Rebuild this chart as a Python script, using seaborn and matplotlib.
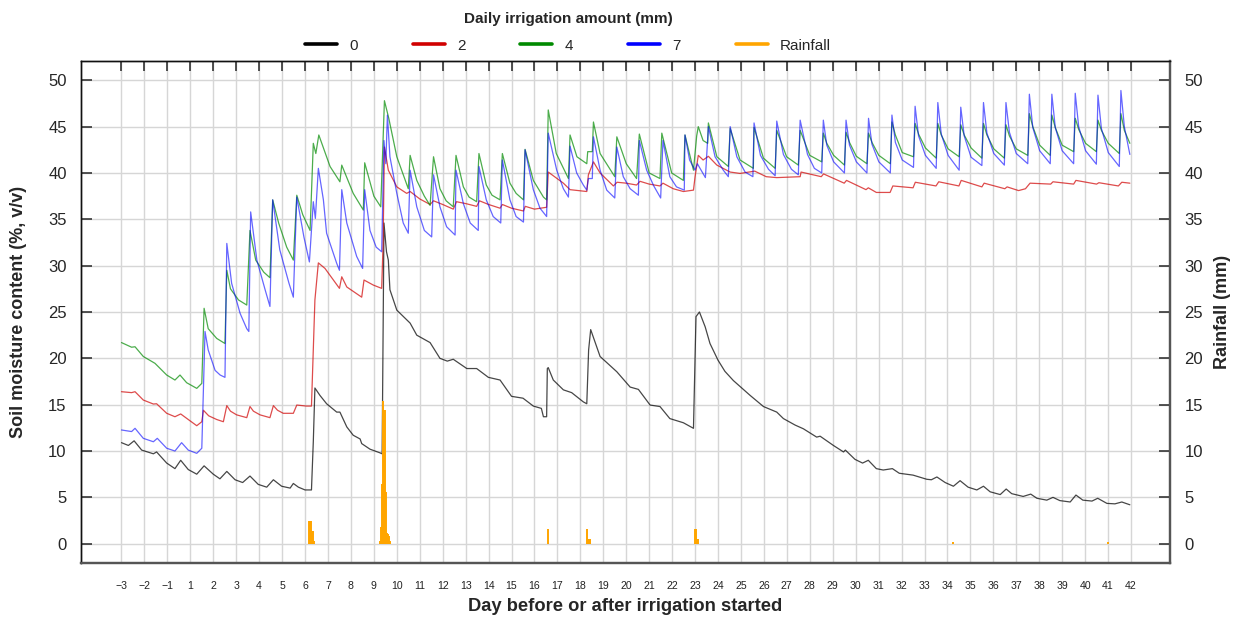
import pandas as pd
import seaborn as sns
import matplotlib.pyplot as plt
from matplotlib.lines import Line2D

# ------------------------------------------------------------------------------
# 1) Data
#    t = days since the start of the record (tick positions 0..44),
#    tick labels skip day 0: -3, -2, -1, 1, 2, ... 42
# ------------------------------------------------------------------------------
day_labels = ["\u22123", "\u22122", "\u22121"] + [str(d) for d in range(1, 43)]

# 0 mm irrigation
t_black = [0.00, 0.30, 0.55, 0.88, 1.39, 1.53, 1.97, 2.33, 2.58, 2.91,
           3.28, 3.60, 4.00, 4.29, 4.59, 4.95, 5.28, 5.60, 5.96, 6.33,
           6.62, 6.98, 7.35, 7.49, 7.71, 8.00, 8.28, 8.36, 8.43, 8.65,
           8.94, 9.38, 9.52, 9.82, 10.10, 10.40, 10.47, 10.83, 11.27, 11.36,
           11.44, 11.55, 11.63, 11.70, 12.00, 12.58, 12.87, 13.45, 13.88, 14.20,
           14.46, 15.05, 15.48, 15.99, 16.50, 17.00, 17.50, 17.95, 18.30, 18.39,
           18.53, 18.56, 18.60, 18.82, 19.26, 19.62, 20.13, 20.28, 20.36, 20.45,
           20.86, 21.59, 22.17, 22.53, 23.04, 23.47, 23.90, 24.49, 24.93, 25.04,
           25.19, 25.44, 25.65, 26.00, 26.30, 26.67, 27.40, 27.98, 28.56, 28.85,
           29.36, 29.72, 30.30, 30.45, 31.03, 31.47, 31.55, 31.97, 32.30, 32.55,
           32.90, 33.20, 33.60, 33.90, 34.50, 35.10, 35.30, 35.54, 35.90, 36.26,
           36.55, 36.90, 37.28, 37.57, 37.86, 38.30, 38.56, 38.80, 39.30, 39.63,
           39.90, 40.33, 40.60, 40.90, 41.35, 41.60, 41.90, 42.30, 42.55, 42.95,
           43.30, 43.60, 43.95]
v_black = [10.9, 10.6, 11.1, 10.1, 9.7, 9.9, 8.7, 8.1, 9.0, 8.0,
           7.5, 8.4, 7.5, 7.0, 7.8, 6.9, 6.6, 7.3, 6.4, 6.1,
           6.9, 6.2, 6.0, 6.5, 6.1, 5.8, 5.8, 11.0, 16.8, 16.0,
           15.1, 14.2, 14.2, 12.6, 11.7, 11.3, 10.8, 10.2, 9.8, 9.7,
           34.6, 31.5, 30.6, 27.4, 25.2, 23.8, 22.5, 21.7, 20.0, 19.7,
           19.9, 18.9, 18.9, 17.95, 17.66, 15.9, 15.7, 14.85, 14.6, 13.7,
           13.7, 18.9, 19.0, 17.66, 16.6, 16.3, 15.3, 15.1, 20.9, 23.1,
           20.2, 18.55, 16.9, 16.65, 14.96, 14.8, 13.5, 13.05, 12.45, 24.5,
           25.0, 23.4, 21.6, 19.8, 18.6, 17.6, 16.0, 14.8, 14.2, 13.5,
           12.8, 12.4, 11.5, 11.6, 10.6, 9.9, 10.1, 9.1, 8.7, 9.0,
           8.1, 7.95, 8.1, 7.6, 7.4, 6.95, 6.9, 7.2, 6.6, 6.2,
           6.8, 6.1, 5.8, 6.2, 5.6, 5.3, 5.9, 5.4, 5.1, 5.35,
           4.9, 4.7, 5.0, 4.65, 4.5, 5.25, 4.7, 4.6, 4.9, 4.35,
           4.3, 4.5, 4.2]

# 2 mm irrigation
t_red = [0.00, 0.44, 0.59, 0.95, 1.39, 1.53, 1.97, 2.33, 2.58, 2.91,
         3.28, 3.50, 3.57, 3.80, 4.15, 4.44, 4.59, 4.75, 5.02, 5.46,
         5.60, 5.75, 6.04, 6.47, 6.62, 6.80, 7.05, 7.49, 7.64, 8.06,
         8.28, 8.43, 8.58, 8.87, 9.50, 9.60, 9.82, 10.47, 10.57, 10.98,
         11.34, 11.40, 11.46, 11.63, 12.00, 12.43, 12.58, 13.00, 13.45, 13.60,
         14.00, 14.46, 14.60, 15.00, 15.48, 15.60, 16.00, 16.50, 16.60, 17.00,
         17.52, 17.60, 18.00, 18.53, 18.60, 19.26, 19.55, 20.28, 20.35, 20.57,
         20.86, 21.44, 21.60, 22.00, 22.45, 22.60, 23.00, 23.47, 23.60, 24.05,
         24.49, 24.93, 25.00, 25.14, 25.35, 25.58, 25.95, 26.53, 26.96, 27.60,
         28.10, 28.56, 29.58, 29.62, 30.50, 30.60, 31.50, 31.60, 32.45, 32.55,
         32.90, 33.50, 33.62, 34.50, 34.60, 35.50, 35.62, 36.50, 36.60, 37.50,
         37.60, 38.50, 38.60, 39.10, 39.40, 39.60, 40.50, 40.60, 41.50, 41.60,
         42.50, 42.60, 43.45, 43.60, 43.95]
v_red = [16.4, 16.3, 16.4, 15.5, 15.07, 15.1, 14.07, 13.7, 14.0, 13.4,
         12.73, 13.16, 14.4, 13.8, 13.4, 13.16, 14.9, 14.3, 13.9, 13.6,
         14.8, 14.3, 13.9, 13.6, 14.9, 14.4, 14.07, 14.07, 14.96, 14.85,
         14.85, 26.3, 30.3, 29.7, 27.55, 28.8, 27.7, 26.6, 28.45, 27.9,
         27.55, 32.2, 42.8, 40.3, 38.5, 37.8, 38.0, 37.2, 36.6, 37.0,
         36.6, 36.1, 36.9, 36.7, 36.4, 37.0, 36.6, 36.2, 36.6, 36.2,
         35.9, 36.4, 36.1, 36.3, 40.1, 38.9, 38.2, 38.0, 39.8, 41.2,
         40.0, 38.6, 39.0, 38.9, 38.7, 39.1, 38.8, 38.6, 38.9, 38.3,
         38.0, 38.15, 39.6, 41.9, 41.4, 41.8, 40.85, 40.1, 39.95, 40.2,
         39.6, 39.5, 39.6, 40.1, 39.6, 39.9, 38.9, 39.2, 38.2, 38.4,
         37.9, 37.9, 38.6, 38.4, 39.0, 38.6, 39.05, 38.6, 39.2, 38.5,
         38.9, 38.3, 38.5, 38.1, 38.3, 38.9, 38.8, 39.05, 38.8, 39.2,
         38.8, 38.95, 38.6, 39.0, 38.9]

# 4 mm irrigation
t_green = [0.00, 0.44, 0.59, 0.95, 1.46, 1.97, 2.33, 2.55, 2.84, 3.28,
           3.50, 3.60, 3.78, 4.15, 4.51, 4.59, 4.75, 5.10, 5.46, 5.60,
           5.85, 6.20, 6.47, 6.59, 6.85, 7.20, 7.49, 7.64, 7.90, 8.22,
           8.36, 8.47, 8.60, 9.09, 9.52, 9.60, 10.10, 10.54, 10.60, 11.00,
           11.30, 11.46, 11.65, 12.00, 12.50, 12.58, 12.87, 13.20, 13.45, 13.60,
           13.88, 14.15, 14.46, 14.58, 14.90, 15.15, 15.48, 15.58, 15.90, 16.15,
           16.50, 16.60, 16.93, 17.20, 17.52, 17.59, 17.95, 18.39, 18.53, 18.60,
           18.95, 19.48, 19.55, 19.85, 20.28, 20.32, 20.52, 20.57, 20.86, 21.50,
           21.59, 22.00, 22.45, 22.57, 23.00, 23.47, 23.55, 23.98, 24.49, 24.56,
           24.93, 25.07, 25.14, 25.35, 25.55, 25.58, 25.95, 26.45, 26.53, 26.96,
           27.54, 27.57, 27.98, 28.49, 28.56, 28.99, 29.50, 29.58, 30.00, 30.52,
           30.59, 30.74, 31.04, 31.51, 31.58, 31.73, 32.03, 32.49, 32.56, 32.71,
           33.01, 33.51, 33.58, 33.73, 34.03, 34.52, 34.59, 34.74, 35.04, 35.51,
           35.58, 35.73, 36.03, 36.51, 36.58, 36.73, 37.03, 37.50, 37.57, 37.72,
           38.02, 38.48, 38.55, 38.70, 39.00, 39.50, 39.57, 39.72, 40.02, 40.48,
           40.55, 40.70, 41.00, 41.50, 41.57, 41.72, 42.02, 42.49, 42.56, 42.71,
           43.01, 43.49, 43.56, 43.71, 43.95]
v_green = [21.7, 21.2, 21.25, 20.2, 19.46, 18.2, 17.66, 18.2, 17.37, 16.76,
           17.3, 25.4, 23.2, 22.15, 21.6, 29.5, 27.5, 26.3, 25.75, 33.8,
           30.6, 29.3, 28.7, 37.1, 34.6, 32.0, 30.6, 37.6, 35.5, 33.8,
           43.2, 42.1, 44.1, 40.7, 39.05, 40.85, 37.8, 36.0, 41.1, 37.5,
           36.35, 47.8, 45.9, 41.75, 38.3, 41.9, 39.2, 37.5, 36.5, 41.75,
           38.3, 37.0, 36.35, 41.9, 38.5, 37.4, 36.9, 42.1, 38.7, 37.6,
           37.1, 42.1, 38.9, 37.8, 37.1, 42.55, 39.2, 37.4, 37.1, 46.8,
           42.1, 39.4, 44.1, 41.75, 41.0, 42.3, 42.3, 45.5, 42.1, 39.6,
           43.9, 41.0, 39.4, 44.2, 40.0, 39.4, 44.3, 40.0, 39.2, 44.1,
           40.3, 44.0, 45.0, 43.5, 43.2, 45.4, 41.75, 40.7, 44.8, 41.4,
           40.5, 44.9, 41.6, 40.5, 44.6, 41.75, 40.85, 44.6, 41.9, 41.2,
           44.3, 43.2, 41.9, 40.85, 44.4, 43.3, 41.8, 41.0, 44.3, 43.3,
           41.9, 41.0, 45.5, 44.1, 42.2, 41.75, 45.35, 44.2, 42.7, 41.6,
           45.35, 44.1, 42.6, 41.75, 45.2, 44.1, 42.7, 41.6, 45.35, 44.1,
           42.6, 41.6, 45.2, 44.0, 42.6, 41.9, 46.4, 45.0, 43.0, 41.9,
           46.25, 44.9, 43.0, 42.3, 45.9, 44.7, 43.2, 42.3, 45.7, 44.6,
           43.2, 42.1, 46.4, 44.6, 43.2]

# 7 mm irrigation
t_blue = [0.00, 0.44, 0.59, 0.95, 1.39, 1.56, 1.97, 2.33, 2.62, 2.91,
          3.28, 3.50, 3.64, 3.78, 4.08, 4.30, 4.51, 4.59, 4.80, 5.17,
          5.46, 5.55, 5.63, 5.90, 6.26, 6.47, 6.59, 6.90, 7.30, 7.49,
          7.64, 7.95, 8.19, 8.36, 8.45, 8.58, 8.80, 8.94, 9.38, 9.50,
          9.60, 9.82, 10.25, 10.51, 10.60, 10.83, 11.10, 11.34, 11.44, 11.52,
          11.59, 11.70, 12.00, 12.28, 12.50, 12.58, 12.87, 13.20, 13.52, 13.60,
          13.88, 14.17, 14.54, 14.58, 14.90, 15.20, 15.55, 15.58, 15.90, 16.20,
          16.53, 16.60, 16.93, 17.20, 17.52, 17.59, 17.95, 18.24, 18.53, 18.60,
          18.97, 19.26, 19.48, 19.55, 19.84, 20.13, 20.28, 20.35, 20.52, 20.57,
          20.86, 21.15, 21.50, 21.59, 21.87, 22.17, 22.53, 22.57, 22.89, 23.20,
          23.50, 23.60, 23.90, 24.19, 24.53, 24.56, 24.76, 25.00, 25.10, 25.45,
          25.58, 25.87, 26.23, 26.45, 26.53, 26.82, 27.18, 27.52, 27.57, 27.85,
          28.20, 28.49, 28.56, 28.85, 29.20, 29.50, 29.58, 29.90, 30.20, 30.52,
          30.59, 30.74, 31.04, 31.51, 31.58, 31.73, 32.03, 32.49, 32.56, 32.71,
          33.01, 33.51, 33.58, 33.73, 34.03, 34.52, 34.59, 34.74, 35.04, 35.51,
          35.58, 35.73, 36.03, 36.51, 36.58, 36.73, 37.03, 37.50, 37.57, 37.72,
          38.02, 38.48, 38.55, 38.70, 39.00, 39.50, 39.57, 39.72, 40.02, 40.48,
          40.55, 40.70, 41.00, 41.50, 41.57, 41.72, 42.02, 42.49, 42.56, 42.71,
          43.01, 43.49, 43.56, 43.71, 43.95]
v_blue = [12.27, 12.1, 12.45, 11.37, 11.0, 11.37, 10.3, 10.0, 10.9, 10.1,
          9.75, 10.3, 22.9, 20.9, 18.7, 18.2, 17.95, 32.4, 28.1, 24.85,
          23.2, 22.9, 35.8, 30.6, 27.4, 25.6, 37.1, 31.7, 28.1, 26.6,
          37.4, 33.1, 30.4, 36.9, 35.1, 40.5, 37.1, 33.5, 30.25, 29.5,
          38.2, 34.6, 31.0, 29.7, 38.2, 33.8, 32.0, 31.5, 43.5, 41.0,
          46.25, 41.75, 37.8, 34.6, 33.5, 40.3, 36.35, 33.8, 33.1, 39.8,
          36.35, 34.2, 33.3, 40.3, 36.7, 34.6, 33.8, 40.7, 37.1, 35.3,
          34.6, 41.4, 37.1, 35.3, 34.7, 42.5, 38.2, 36.2, 35.3, 44.3,
          40.3, 38.3, 37.4, 42.9, 40.0, 38.7, 38.15, 39.4, 39.4, 43.9,
          40.3, 38.15, 37.3, 42.8, 39.6, 38.3, 37.6, 43.5, 40.3, 38.6,
          37.3, 43.5, 39.6, 38.5, 38.15, 44.1, 41.4, 40.3, 41.0, 39.5,
          45.0, 41.75, 40.3, 39.6, 45.0, 41.75, 40.1, 39.6, 45.4, 41.9,
          40.4, 39.7, 45.6, 42.0, 40.4, 39.8, 45.7, 42.0, 40.5, 40.0,
          45.7, 43.0, 41.2, 40.0, 45.7, 43.0, 41.2, 40.0, 45.9, 43.1,
          41.2, 40.0, 46.25, 43.3, 41.4, 40.6, 47.2, 44.0, 41.9, 40.5,
          47.6, 44.2, 41.9, 40.3, 47.1, 44.0, 41.7, 40.8, 47.6, 44.3,
          42.1, 40.85, 47.6, 44.4, 42.1, 41.0, 48.5, 44.9, 42.4, 41.0,
          48.5, 44.9, 42.4, 41.0, 48.6, 45.0, 42.4, 40.95, 48.4, 44.8,
          42.2, 40.7, 48.9, 45.0, 42.0]

# Rainfall (mm), right axis
t_rain = [8.19, 8.23, 8.27, 8.31, 8.35, 8.39,
          11.27, 11.31, 11.36, 11.40, 11.44, 11.49, 11.53, 11.57, 11.62, 11.66, 11.70,
          18.58, 20.28, 20.32, 20.36, 20.40, 20.44,
          25.00, 25.04, 25.08, 25.12, 36.25, 43.00]
rain_mm = [2.45, 2.45, 2.45, 1.4, 1.4, 0.3,
           0.3, 1.8, 6.4, 15.4, 14.4, 14.4, 5.6, 1.2, 1.0, 0.8, 0.3,
           1.55, 1.55, 0.5, 0.5, 0.5, 0.5,
           1.55, 1.55, 0.5, 0.5, 0.15, 0.15]

series = [("0", t_black, v_black, "#000000", 0.72),
          ("2", t_red, v_red, "#d00000", 0.7),
          ("4", t_green, v_green, "#008a00", 0.7),
          ("7", t_blue, v_blue, "#0000ff", 0.6)]
for name, t, v, _, _ in series:
    assert len(t) == len(v), name

# ------------------------------------------------------------------------------
# 2) Plot
# ------------------------------------------------------------------------------
sns.set_style("white")
plt.rcParams['font.family'] = ['Liberation Sans', 'DejaVu Sans']

W, H = 1238, 617
fig = plt.figure(figsize=(W / 100, H / 100), dpi=100)
ax = fig.add_axes([81.3 / W, 1 - 562.7 / H, (1170 - 81.3) / W, (562.7 - 61.3) / H])

for name, t, v, color, alpha in series:
    df = pd.DataFrame({"t": t, "v": v})
    sns.lineplot(data=df, x="t", y="v", color=color, alpha=alpha, lw=0.9,
                 estimator=None, sort=False, ax=ax)

ax.set_xlim(-1.752, 45.70)
ax.set_ylim(-2.05, 52.05)
ax.set_xticks(range(len(day_labels)))
ax.set_xticklabels(day_labels, fontsize=7.6, color="#333333")
ax.set_yticks(range(0, 51, 5))
ax.tick_params(axis="x", direction="in", length=7.3, width=1.1, top=True,
               pad=13.5, colors="#222222")
ax.tick_params(axis="y", direction="in", length=7.7, width=1.1, labelsize=12,
               pad=10.5)
ax.grid(True, color="#d6d6d6", lw=1.0)
ax.set_axisbelow(True)
ax.set_xlabel("Day before or after irrigation started", fontsize=13.2,
              fontweight="bold")
ax.xaxis.set_label_coords(0.4995, -0.070)
ax.set_ylabel("Soil moisture content (%, v/v)", fontsize=13, fontweight="bold")
ax.yaxis.set_label_coords(-0.05, 0.5)

# Rainfall on the right axis (same 0-50 scale)
ax2 = ax.twinx()
ax2.vlines(t_rain, 0, rain_mm, color="#ffa500", lw=1.4)
ax2.set_ylim(-2.05, 52.05)
ax2.set_yticks(range(0, 51, 5))
ax2.tick_params(axis="y", direction="in", length=7.7, width=1.1, labelsize=12,
                pad=10.5)
ax2.set_ylabel("Rainfall (mm)", fontsize=13, fontweight="bold")
ax2.yaxis.set_label_coords(1.040, 0.5)

for a in (ax, ax2):
    for side in ("left", "top"):
        a.spines[side].set_color("#111111")
        a.spines[side].set_linewidth(1.0)
    for side in ("bottom", "right"):
        a.spines[side].set_color("#555555")
        a.spines[side].set_linewidth(1.6)

handles = [Line2D([], [], color=c, lw=2.6) for _, _, _, c, _ in series]
handles.append(Line2D([], [], color="#ffa500", lw=2.6))
labels = [s[0] for s in series] + ["Rainfall"]
fig.legend(handles, labels, loc="upper center",
           bbox_to_anchor=(568 / W, 1 + 6.5 / H),
           ncol=5, frameon=False, title="Daily irrigation amount (mm)",
           title_fontproperties={"weight": "bold", "size": 11}, fontsize=11,
           handlelength=2.1, handletextpad=0.8, columnspacing=3.6, borderpad=0.7,
           labelspacing=0.85)

plt.savefig("out.png", dpi=100)
plt.close()
